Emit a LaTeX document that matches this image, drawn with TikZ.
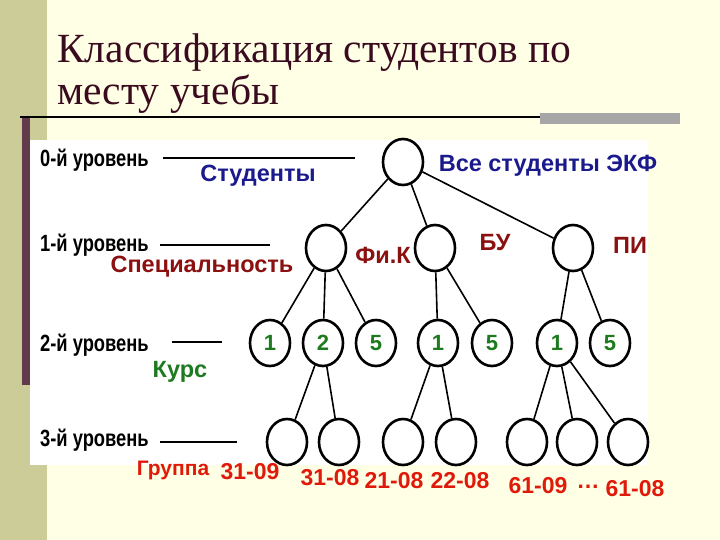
\documentclass[tikz,border=0pt]{standalone}
\usepackage{fontspec}
\setmainfont{Liberation Sans}
\newfontfamily\titlefont{Liberation Serif}
\definecolor{cream}{HTML}{FFFFE6}
\definecolor{olive}{HTML}{CCCC99}
\definecolor{maroon}{HTML}{3A0A1E}
\definecolor{navy}{HTML}{1A1A8C}
\definecolor{dred}{HTML}{8B1010}
\definecolor{dgreen}{HTML}{1E7A1E}
\definecolor{bred}{HTML}{E01A0A}
\begin{document}
\begin{tikzpicture}[x=1pt,y=-1pt,
  circ/.style={draw,line width=2.6pt,ellipse,minimum width=40pt,minimum height=46pt,inner sep=0pt},
  lvl/.style={font=\bfseries\fontsize{23.5}{23.5}\selectfont,anchor=west,xscale=0.78,inner sep=0},
  lab/.style={font=\bfseries\fontsize{22}{22}\selectfont},
  big/.style={font=\bfseries\fontsize{23.5}{23.5}\selectfont},
  nums/.style={text=bred,font=\bfseries\fontsize{23}{23}\selectfont},
  edge/.style={line width=1.6pt}]
\usetikzlibrary{shapes.geometric}
\fill[cream] (0,0) rectangle (720,540);
\useasboundingbox (0,0) rectangle (720,540);
\fill[olive] (0,0) rectangle (47,540);
\fill[white] (30,140) rectangle (648,465);
\fill[maroon!80] (22,118) rectangle (30,385);
\draw[line width=1.3pt] (20,117) -- (540,117);
\fill[gray!70] (540,113) rectangle (680,124);
\node[anchor=base west,text=maroon,font=\titlefont\fontsize{41.5}{41.5}\selectfont,inner sep=0] (t1) at (57,63) {Классификация студентов по};
\node[anchor=base west,text=maroon,font=\titlefont\fontsize{41.5}{41.5}\selectfont,inner sep=0] (t2) at (57,105) {месту учебы};
% tree nodes
\node[circ] (r) at (403,162) {};
\node[circ] (a) at (326,248) {};
\node[circ] (b) at (435,248) {};
\node[circ] (c) at (573,248) {};
\node[circ,text=dgreen,lab] (a1) at (270,343) {1};
\node[circ,text=dgreen,lab] (a2) at (323,343) {2};
\node[circ,text=dgreen,lab] (a5) at (376,343) {5};
\node[circ,text=dgreen,lab] (b1) at (438,343) {1};
\node[circ,text=dgreen,lab] (b5) at (492,343) {5};
\node[circ,text=dgreen,lab] (c1) at (557,343) {1};
\node[circ,text=dgreen,lab] (c5) at (610,343) {5};
\node[circ] (g1) at (287,442) {};
\node[circ] (g2) at (339,442) {};
\node[circ] (g3) at (403,442) {};
\node[circ] (g4) at (456,442) {};
\node[circ] (g5) at (527,442) {};
\node[circ] (g6) at (577,442) {};
\node[circ] (g7) at (628,442) {};
\foreach \u/\v in {r/a,r/b,r/c,a/a1,a/a2,a/a5,b/b1,b/b5,c/c1,c/c5,a2/g1,a2/g2,b1/g3,b1/g4,c1/g5,c1/g6,c1/g7}
  \draw[edge] (\u) -- (\v);
% level labels and lines
\node[lvl] (l0) at (40,160) {0-й уровень};
\node[lvl] (l1) at (40,245) {1-й уровень};
\node[lvl] (l2) at (40,345) {2-й уровень};
\node[lvl] (l3) at (40,440) {3-й уровень};
\coordinate (s0) at (163,158); \coordinate (e0) at (355,158);
\coordinate (s1) at (160,245); \coordinate (e1) at (270,245);
\coordinate (s2) at (172,342); \coordinate (e2) at (222,342);
\coordinate (s3) at (160,442); \coordinate (e3) at (237,442);
\draw[line width=2pt] (s0) -- (e0) (s1) -- (e1) (s2) -- (e2) (s3) -- (e3);
\node[big,text=navy] (st) at (258,176) {Студенты};
\node[big,text=navy] (all) at (548,166) {Все студенты ЭКФ};
\node[big,text=dred] (sp) at (202,267) {Специальность};
\node[big,text=dred] (fk) at (383,255) {Фи.К};
\node[big,text=dred] (bu) at (495,243) {БУ};
\node[big,text=dred] (pi) at (630,245) {ПИ};
\node[big,text=dgreen] (ku) at (180,372) {Курс};
\node[big,text=bred,font=\bfseries\fontsize{21}{21}\selectfont] (gr) at (173,470) {Группа};
\node[nums] (n1) at (250,472) {31-09};
\node[nums] (n2) at (330,478) {31-08};
\node[nums] (n3) at (394,481) {21-08};
\node[nums] (n4) at (460,481) {22-08};
\node[nums] (n5) at (538,486) {61-09};
\node[nums] (n6) at (588,487) {\dots};
\node[nums] (n7) at (635,489) {61-08};
\end{tikzpicture}
\end{document}
